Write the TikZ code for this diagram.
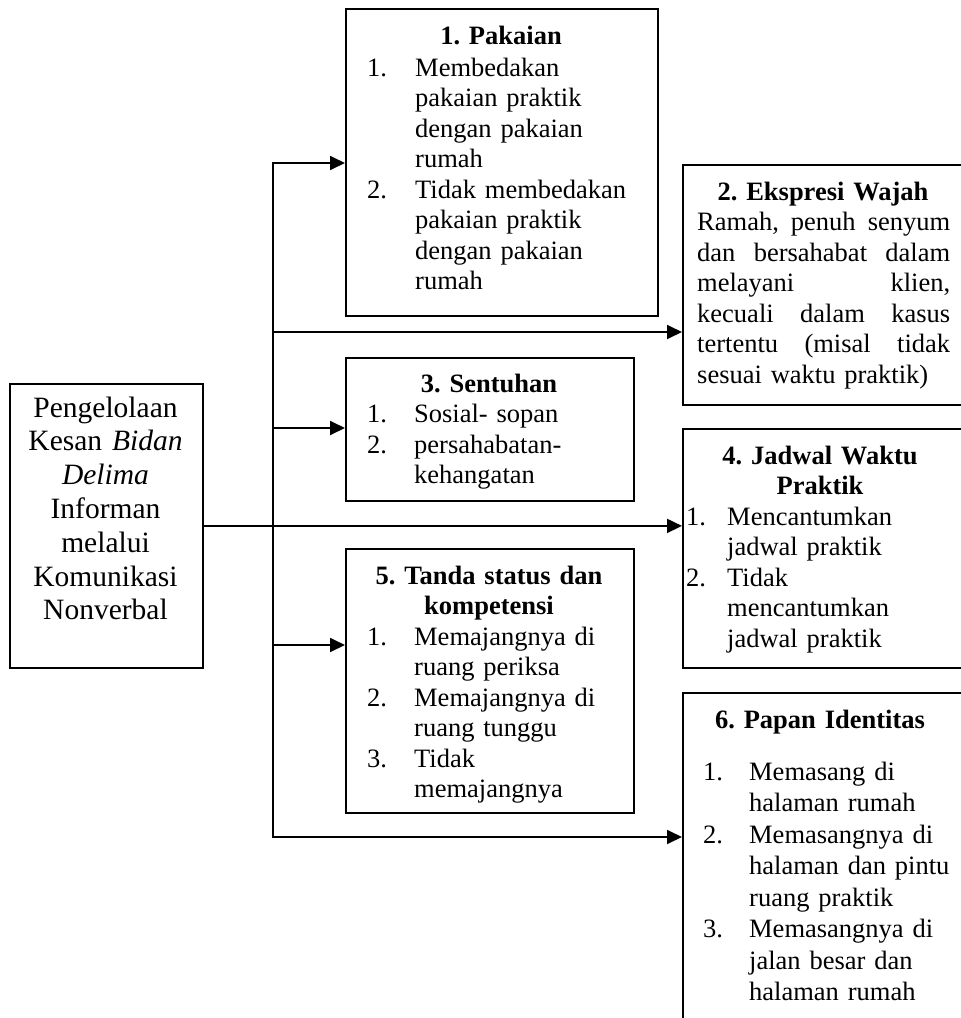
\documentclass[tikz,border=0pt]{standalone}
\usepackage{fontspec}
\setmainfont{Liberation Serif}
\usetikzlibrary{arrows.meta}
\newcommand\bodysz{\fontsize{26.5pt}{30.5pt}\selectfont\frenchspacing}
\newcommand\numit[2]{\makebox[#1][l]{#2}}
\newcommand\jline[1]{\leavevmode\hbox to 253pt{#1}}
\begin{document}
\begin{tikzpicture}[x=1pt,y=-1pt,
  boxnode/.style={draw, line width=1.8pt, rectangle, inner sep=0pt, anchor=north west},
  titletext/.style={inner sep=0pt, anchor=base, text width=280pt, align=center, font=\bodysz\bfseries},
  listtext/.style={inner sep=0pt, anchor=base west, text width=260pt, align=left, font=\bodysz},
  conn/.style={line width=1.8pt, -{Triangle[length=15pt,width=14pt]}},
  bothconn/.style={line width=1.8pt, {Triangle[length=15pt,width=14pt]}-{Triangle[length=15pt,width=14pt]}},
  ]
\useasboundingbox (0,0) rectangle (961,1018);
\clip (0,0) rectangle (961,1018);
\fill[white] (0,0) rectangle (961,1018);

% boxes
\node[boxnode, minimum width=193pt, minimum height=284pt] (l) at (9,383) {};
\node[boxnode, minimum width=312pt, minimum height=307pt] (b1) at (345,8) {};
\node[boxnode, minimum width=283pt, minimum height=240pt] (b2) at (682,164) {};
\node[boxnode, minimum width=288pt, minimum height=143pt] (b3) at (345,357) {};
\node[boxnode, minimum width=283pt, minimum height=239pt] (b4) at (682,428) {};
\node[boxnode, minimum width=288pt, minimum height=264pt] (b5) at (345,548) {};
\node[boxnode, minimum width=283pt, minimum height=340pt] (b6) at (682,692) {};

% connectors
\coordinate (j1) at (273,163);
\coordinate (j2) at (273,332);
\coordinate (j3) at (273,428);
\coordinate (j5) at (273,645);
\coordinate (j6) at (273,837);
\draw[conn] (l.east) -- (l.east -| b4.west);
\draw[conn] (j2) -- (j2 -| b2.west);
\draw[conn] (j3) -- (j3 -| b3.west);
\draw[conn] (j5) -- (j5 -| b5.west);
\draw[bothconn] (j1 -| b1.west) -- (j1) -- (j6) -- (j6 -| b6.west);

% left text
\node[inner sep=0pt, anchor=base, text width=190pt, align=center,
      font=\fontsize{29.5pt}{33.8pt}\selectfont] (lt) at (105.5,417)
  {Pengelolaan\\ Kesan \textit{Bidan}\\ \textit{Delima}\\ Informan\\ melalui\\ Komunikasi\\ Nonverbal};

% box 1
\node[titletext] (t1) at (501,44) {1. Pakaian};
\node[listtext] (i1) at (367,76)
  {\numit{48pt}{1.}Membedakan\\
   \hspace*{48pt}pakaian praktik\\
   \hspace*{48pt}dengan pakaian\\
   \hspace*{48pt}rumah\\
   \numit{48pt}{2.}Tidak membedakan\\
   \hspace*{48pt}pakaian praktik\\
   \hspace*{48pt}dengan pakaian\\
   \hspace*{48pt}rumah};

% box 2
\node[titletext] (t2) at (823,200) {2. Ekspresi Wajah};
\node[listtext, text width=253pt] (i2) at (697,230.5)
  {\jline{Ramah,\hfill penuh\hfill senyum}\\
   \jline{dan\hfill bersahabat\hfill dalam}\\
   \jline{melayani\hfill klien,}\\
   \jline{kecuali\hfill dalam\hfill kasus}\\
   \jline{tertentu\hfill (misal\hfill tidak}\\
   sesuai waktu praktik)};

% box 3
\node[titletext] (t3) at (489,392) {3. Sentuhan};
\node[listtext] (i3) at (367,422.5)
  {\numit{47pt}{1.}Sosial- sopan\\
   \numit{47pt}{2.}persahabatan-\\
   \hspace*{47pt}kehangatan};

% box 4
\node[titletext] (t4) at (820,464) {4. Jadwal Waktu\\ Praktik};
\node[listtext] (i4) at (686,525)
  {\numit{41pt}{1.}Mencantumkan\\
   \hspace*{41pt}jadwal praktik\\
   \numit{41pt}{2.}Tidak\\
   \hspace*{41pt}mencantumkan\\
   \hspace*{41pt}jadwal praktik};

% box 5
\node[titletext] (t5) at (489,584) {5. Tanda status dan\\ kompetensi};
\node[listtext] (i5) at (367,645)
  {\numit{47pt}{1.}Memajangnya di\\
   \hspace*{47pt}ruang periksa\\
   \numit{47pt}{2.}Memajangnya di\\
   \hspace*{47pt}ruang tunggu\\
   \numit{47pt}{3.}Tidak\\
   \hspace*{47pt}memajangnya};

% box 6
\node[titletext] (t6) at (820,728) {6. Papan Identitas};
\node[listtext, font=\fontsize{26.5pt}{31.5pt}\selectfont] (i6) at (703,780)
  {\numit{46pt}{1.}Memasang di\\
   \hspace*{46pt}halaman rumah\\
   \numit{46pt}{2.}Memasangnya di\\
   \hspace*{46pt}halaman dan pintu\\
   \hspace*{46pt}ruang praktik\\
   \numit{46pt}{3.}Memasangnya di\\
   \hspace*{46pt}jalan besar dan\\
   \hspace*{46pt}halaman rumah};
\end{tikzpicture}
\end{document}
